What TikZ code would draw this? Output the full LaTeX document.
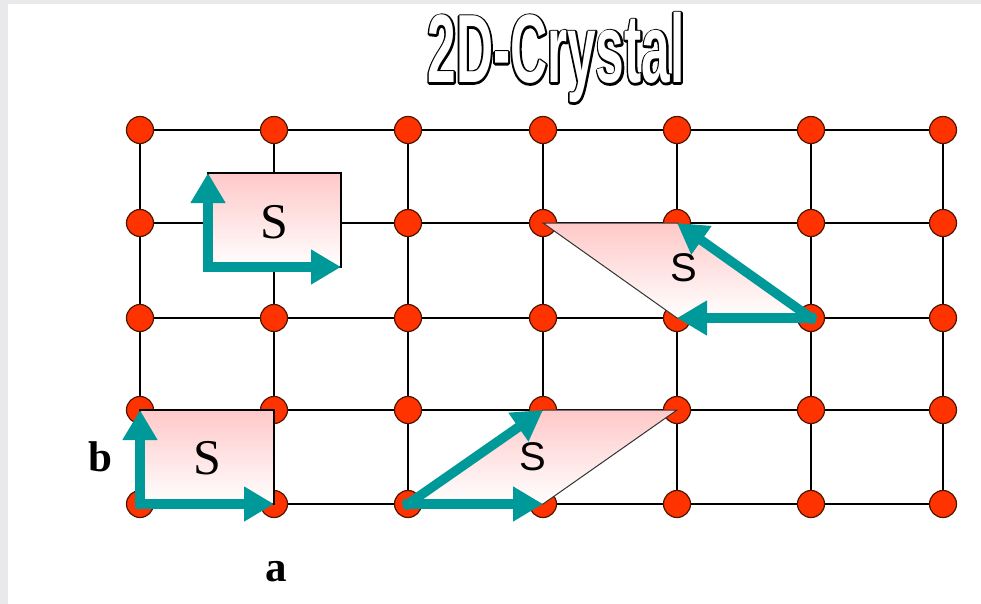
\documentclass[tikz,border=0pt]{standalone}
\usepackage{fontspec}
\setmainfont{Liberation Serif}
\newfontfamily\titlefont[FakeStretch=0.53]{Liberation Sans}
\newfontfamily\sansS{Liberation Sans}
\usetikzlibrary{arrows.meta}
\definecolor{dotred}{RGB}{255,51,0}
\definecolor{dotedge}{RGB}{80,20,0}
\definecolor{teal}{RGB}{0,153,153}
\definecolor{cellpink}{RGB}{255,200,200}
\definecolor{bgstrip}{RGB}{233,233,236}
\newcommand\fattext[1]{\special{pdf:literal direct 2 Tr 3.8 w 1 j}#1\special{pdf:literal direct 0 Tr 1 w 0 j}}
\tikzset{
  gridline/.style={line width=2pt, black},
  dot/.style={circle, minimum size=27pt, inner sep=0pt, fill=dotred, draw=dotedge, line width=1.2pt},
  cellbox/.style={top color=cellpink, bottom color=white, draw=black, line width=1.5pt},
  cellpar/.style={top color=cellpink, bottom color=white, draw=black!80, line width=1pt},
  vec/.style={draw=teal, line width=9.5pt, line cap=rect, -{Triangle[length=30pt,width=33pt]}},
  serifS/.style={font=\fontsize{50}{50}\selectfont, inner sep=0pt},
  sansSt/.style={font=\sansS\fontsize{40}{40}\selectfont, inner sep=0pt},
  lab/.style={font=\bfseries\fontsize{43}{43}\selectfont, inner sep=0pt},
  titletext/.style={font=\titlefont\bfseries\fontsize{97}{97}\selectfont, inner sep=0pt, anchor=base}
}
\begin{document}
\begin{tikzpicture}[x=1pt,y=-1pt]
\useasboundingbox (0,0) rectangle (981,604);
\fill[bgstrip] (0,0) rectangle (981,604);
\fill[white] (8,4) rectangle (981,604);
% title (outlined: dilated black glyphs under white glyphs)
\node[titletext, text=black] (titleedge) at (556,83) {\fattext{2D-Crystal}};
\node[titletext, text=white] (title) at (556,83) {2D-Crystal};
% lattice coordinates
\foreach \c [count=\i] in {140,274,408,543,677,811,943}
  \foreach \r [count=\j] in {130,223,318,410,504}
    \coordinate (p-\j-\i) at (\c,\r);
\foreach \j in {1,...,5} \draw[gridline] (p-\j-1) -- (p-\j-7);
\foreach \i in {1,...,7} \draw[gridline] (p-1-\i) -- (p-5-\i);
\foreach \i in {1,...,7}
  \foreach \j in {1,...,5}
    \node[dot] (d-\j-\i) at (p-\j-\i) {};
% top-left cell
\coordinate (o1) at (208,267);
\coordinate (a1) at (341,267);
\coordinate (b1) at (208,173);
\path[cellbox] (b1) rectangle (a1);
\node[serifS] (s1) at (274,222) {S};
\draw[vec] (o1) -- (a1);
\draw[vec] (o1) -- (b1);
% bottom-left cell
\path[cellbox] (p-4-1) rectangle (p-5-2);
\node[serifS] (s2) at (207,458) {S};
\draw[vec] (p-5-1) -- (p-5-2);
\draw[vec] (p-5-1) -- (p-4-1);
% right oblique cell
\path[cellpar] (p-2-4) -- (p-2-5) -- (p-3-6) -- (p-3-5) -- cycle;
\node[sansSt] (s3) at (684,268) {S};
\draw[vec] (p-3-6) -- (p-3-5);
\draw[vec] (p-3-6) -- (p-2-5);
% bottom oblique cell
\path[cellpar] (p-5-3) -- (p-5-4) -- (p-4-5) -- (p-4-4) -- cycle;
\node[sansSt] (s4) at (533,457) {S};
\draw[vec] (p-5-3) -- (p-5-4);
\draw[vec] (p-5-3) -- (p-4-4);
% labels
\node[lab] (lb) at (100,457) {b};
\node[lab] (la) at (276,572) {a};
\end{tikzpicture}
\end{document}
